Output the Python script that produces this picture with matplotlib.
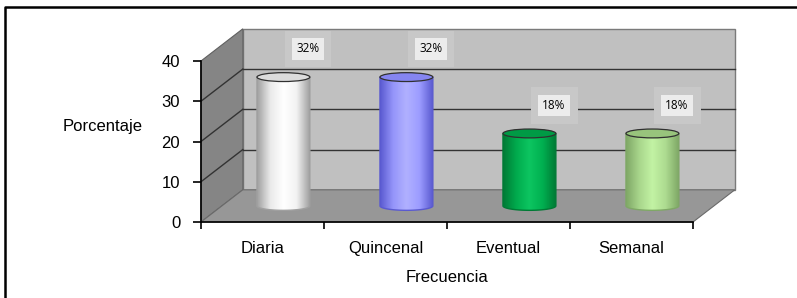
import numpy as np
import matplotlib
matplotlib.use('Agg')
import matplotlib.pyplot as plt
from matplotlib.patches import Polygon, Ellipse
from matplotlib.lines import Line2D
from matplotlib.colors import to_rgb, LinearSegmentedColormap

categories = ['Diaria', 'Quincenal', 'Eventual', 'Semanal']
values = [32, 32, 18, 18]
labels = ['32%', '32%', '18%', '18%']
yticks = [0, 10, 20, 30, 40]
body_colors = ['#f2f2f2', '#9c9cff', '#00b050', '#addb90']
edge_colors = ['#a0a0a0', '#5a5ad0', '#007a35', '#7fa866']
top_colors = ['#dcdcdc', '#8585f0', '#009a45', '#98c47c']

# depth offset of the back wall, in data units
dx, dy = 0.34, 8.0
cw = 0.43  # cylinder width
eh = 2.2   # ellipse height
font = 'Liberation Sans'

fig = plt.figure(figsize=(7.97, 2.98), dpi=100)
W, H = 797, 298
# outer frame (only left and top edges are visible)
fig.add_artist(Line2D([5 / W, 5 / W, 1.0], [0, 1 - 7 / H, 1 - 7 / H],
                      transform=fig.transFigure, color='black', lw=1.8))

ax = fig.add_axes([201 / W, 1 - 222 / H, 492 / W, 161 / H])
ax.set_xlim(-0.5, 3.5)
ax.set_ylim(0, 40)
for s in ax.spines.values():
    s.set_visible(False)
ax.patch.set_visible(False)

x0, x1 = -0.5, 3.5
# walls
ax.add_patch(Polygon([(x0 + dx, dy), (x1 + dx, dy), (x1 + dx, 40 + dy), (x0 + dx, 40 + dy)],
                     closed=True, facecolor='#c0c0c0', edgecolor='#7a7a7a', lw=1, clip_on=False, zorder=1))
ax.add_patch(Polygon([(x0, 0), (x0, 40), (x0 + dx, 40 + dy), (x0 + dx, dy)],
                     closed=True, facecolor='#858585', edgecolor='#606060', lw=0.8, clip_on=False, zorder=1))
ax.add_patch(Polygon([(x0, 0), (x1, 0), (x1 + dx, dy), (x0 + dx, dy)],
                     closed=True, facecolor='#979797', edgecolor='#6a6a6a', lw=0.8, clip_on=False, zorder=1))

# gridlines on the back and side walls
for v in yticks[1:-1]:
    ax.plot([x0 + dx, x1 + dx], [v + dy, v + dy], color='#333333', lw=1, clip_on=False, zorder=2)
    ax.plot([x0, x0 + dx], [v, v + dy], color='#333333', lw=1, clip_on=False, zorder=2)

# label boxes (break the gridlines)
for i, (v, lab) in enumerate(zip(values, labels)):
    tx, ty = i + 0.37, v + 11
    ax.text(tx, ty, lab, fontsize=8.5, ha='center', va='center', color='none', family='Open Sans',
            bbox=dict(boxstyle='square,pad=1.0', fc='#c8c8c8', ec='none'), zorder=3, clip_on=False)
    ax.text(tx, ty, lab, fontsize=8.5, ha='center', va='center', color='black', family='Open Sans',
            bbox=dict(boxstyle='square,pad=0.35', fc='#ececec', ec='none'), zorder=4, clip_on=False)

# cylinders
t = np.linspace(np.pi, 2 * np.pi, 40)
for i, v in enumerate(values):
    cx = i + dx / 2
    base = dy / 2
    bottom = np.column_stack([cx + cw / 2 * np.cos(t), base + eh / 2 * np.sin(t)])
    pts = np.vstack([[[cx - cw / 2, base + v]], bottom, [[cx + cw / 2, base + v]]])
    body = Polygon(pts, closed=True, facecolor='none',
                   edgecolor=edge_colors[i], lw=1.0, zorder=6, clip_on=False)
    c = np.array(to_rgb(body_colors[i]))
    e = np.array(to_rgb(edge_colors[i]))
    cmap = LinearSegmentedColormap.from_list(
        'g', [e, c * 0.9 + e * 0.1, np.minimum(c * 1.05 + 0.05, 1), c, e])
    grad = np.linspace(0, 1, 200).reshape(1, -1)
    im = ax.imshow(grad, cmap=cmap, extent=[cx - cw / 2, cx + cw / 2, base - eh, base + v],
                   aspect='auto', zorder=5, interpolation='bilinear')
    ax.add_patch(body)
    im.set_clip_path(body)
    ax.add_patch(Ellipse((cx, base + v), cw, eh, facecolor=top_colors[i],
                         edgecolor='#303030', lw=0.9, zorder=7, clip_on=False))

ax.set_xlim(-0.5, 3.5)
ax.set_ylim(0, 40)

# front axes
ax.plot([x0, x0], [0, 40], color='black', lw=1.2, clip_on=False, zorder=8)
ax.plot([x0, x1], [0, 0], color='black', lw=1.2, clip_on=False, zorder=8)
ax.set_yticks(yticks)
ax.set_yticklabels([str(v) for v in yticks], fontsize=12, family=font)
ax.set_xticks(np.arange(-0.5, 4, 1))
ax.set_xticklabels([])
ax.set_xticks(range(len(categories)), minor=True)
ax.set_xticklabels(categories, minor=True, fontsize=12, family=font)
ax.tick_params(axis='x', which='major', length=5, width=1.2, direction='out')
ax.tick_params(axis='x', which='minor', length=0, pad=14)
ax.tick_params(axis='y', length=6, width=1.2, direction='out', pad=9)

ax.set_xlabel('Frecuencia', fontsize=12, family=font, labelpad=10)
fig.text(103 / W, 1 - 127 / H, 'Porcentaje', fontsize=12, family=font,
         ha='center', va='center')

fig.savefig('out.png', dpi=100)
